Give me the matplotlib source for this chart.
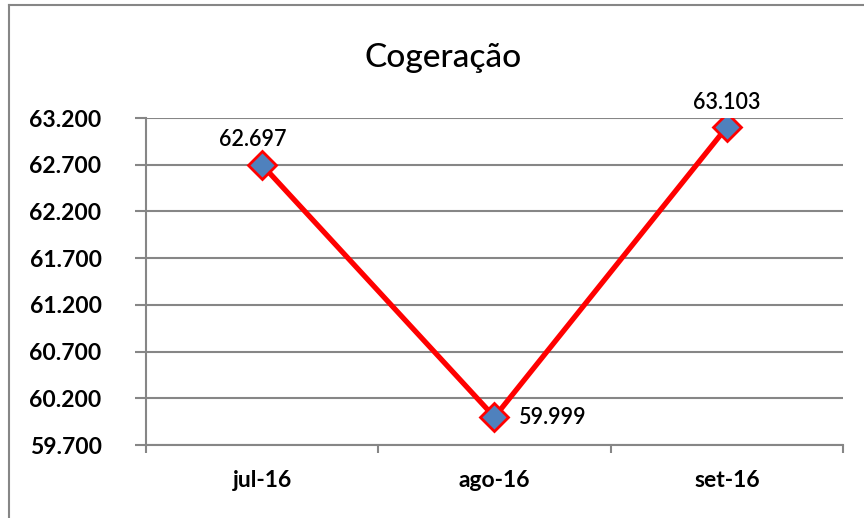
import matplotlib
matplotlib.use("Agg")
import matplotlib.pyplot as plt
from matplotlib.ticker import FixedLocator, FuncFormatter
from matplotlib.lines import Line2D

categories = ["jul-16", "ago-16", "set-16"]
values = [62.697, 59.999, 63.103]
labels = ["62.697", "59.999", "63.103"]
yticks = [59.7, 60.2, 60.7, 61.2, 61.7, 62.2, 62.7, 63.2]
title = "Cogeração"

plt.rcParams['font.family'] = ['Lato', 'DejaVu Sans']

fig = plt.figure(figsize=(8.64, 5.18), dpi=100)
ax = fig.add_axes([146/864, 73/518, (843-146)/864, (445-118)/518])

# outer border (left and top visible)
fig.add_artist(Line2D([9/864, 9/864], [0, 1-5/518], color="#868686", lw=1.5, transform=fig.transFigure))
fig.add_artist(Line2D([9/864, 1], [1-5/518, 1-5/518], color="#868686", lw=1.5, transform=fig.transFigure))

x = list(range(len(categories)))
ax.plot(x, values, color="#FF0000", lw=3.8, marker="D", markersize=14.5,
        markerfacecolor="#4F81BD", markeredgecolor="#FF0000", markeredgewidth=2, zorder=3)

ax.set_xlim(-0.5, len(categories) - 0.5)
ax.set_ylim(yticks[0], yticks[-1])
ax.set_yticks(yticks)
ax.yaxis.set_major_formatter(FuncFormatter(lambda v, p: f"{v:.3f}"))
ax.grid(axis="y", color="#868686", lw=1.5)
ax.set_axisbelow(True)

ax.set_xticks(x)
ax.set_xticklabels(categories)
ax.xaxis.set_minor_locator(FixedLocator([i - 0.5 for i in range(len(categories) + 1)]))
ax.tick_params(axis="x", which="major", length=0, pad=18, labelsize=16.5)
ax.tick_params(axis="x", which="minor", length=6, width=1.5, color="#868686")
ax.tick_params(axis="y", length=8, width=1.5, color="#868686", pad=24, labelsize=16.5)
for lab in ax.get_xticklabels() + ax.get_yticklabels():
    lab.set_fontweight("bold")

for s in ["top", "right"]:
    ax.spines[s].set_visible(False)
for s in ["left", "bottom"]:
    ax.spines[s].set_color("#868686")
    ax.spines[s].set_linewidth(1.5)

offsets = [(-6.5, 18.5), (42, 0), (0, 18)]
for xi, v, lab, off in zip(x, values, labels, offsets):
    ax.annotate(lab, (xi, v), xytext=off, textcoords="offset points",
                ha="center", va="center", fontsize=15.5, fontweight="semibold", color="black")

fig.text(443/864, 1-58/518, title, ha="center", va="center", fontsize=24, fontweight="medium")

fig.savefig("out.png", dpi=100)
